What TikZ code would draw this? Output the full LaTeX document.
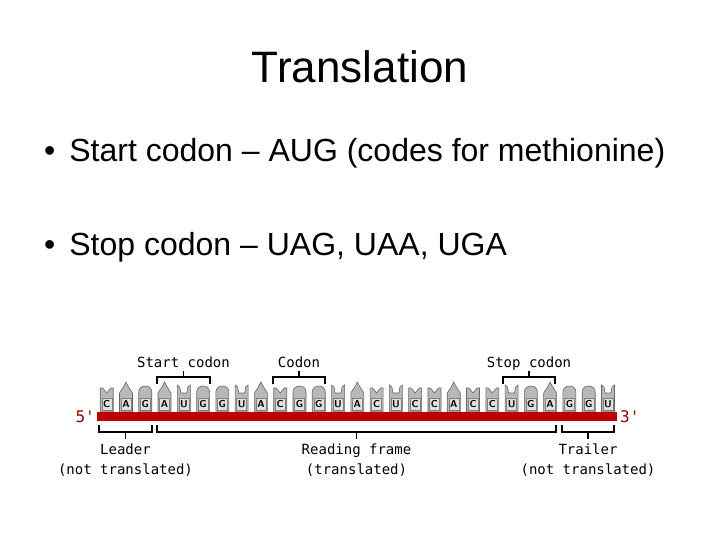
\documentclass[tikz,border=0pt]{standalone}
\usepackage{fontspec}
\setmainfont{Liberation Sans}
\newfontfamily\monof{DejaVu Sans Mono}
\def\bA{A}\def\bG{G}\def\bC{C}\def\bU{U}
\begin{document}
\begin{tikzpicture}[x=1pt,y=-1pt,
  lbl/.style={font=\monof\fontsize{14}{15}\selectfont, inner sep=0pt, anchor=base},
  brk/.style={line width=1.6pt},
  basebody/.style={fill=black!28, draw=black!60, line width=0.6pt},
  letbox/.style={fill=black!12, draw=black!50, line width=0.4pt, minimum width=10pt, minimum height=12pt, inner sep=0pt, font=\sffamily\bfseries\fontsize{10}{10}\selectfont}]
\useasboundingbox (0,0) rectangle (720,540);
\node[font=\fontsize{44}{48}\selectfont, anchor=base] (title) at (360,83) {Translation};
\node[font=\fontsize{32}{34}\selectfont, anchor=base west, inner sep=0pt] (b1) at (44,162) {\textbullet\hspace{14pt}Start codon -- AUG (codes for methionine)};
\node[font=\fontsize{32}{34}\selectfont, anchor=base west, inner sep=0pt] (b2) at (44,255) {\textbullet\hspace{14pt}Stop codon -- UAG, UAA, UGA};
% bases
\foreach \b [count=\i from 0] in {C,A,G,A,U,G,G,U,A,C,G,G,U,A,C,U,C,C,A,C,C,U,G,A,G,G,U}{
  \pgfmathsetmacro\cx{106.7+19.28*\i}
  \begin{scope}[shift={(\cx,0)}]
  \ifx\b\bA \draw[basebody] (-6.5,412) -- (-6.5,393) -- (-2,386) -- (0,382) -- (2,386) -- (6.5,393) -- (6.5,412) -- cycle;\fi
  \ifx\b\bG \draw[basebody] (-6.5,412) -- (-6.5,392) .. controls (-6.5,384) and (6.5,384) .. (6.5,392) -- (6.5,412) -- cycle;\fi
  \ifx\b\bC \draw[basebody] (-6.5,412) -- (-6.5,388) -- (-4,388) -- (0,393) -- (4,388) -- (6.5,388) -- (6.5,412) -- cycle;\fi
  \ifx\b\bU \draw[basebody] (-6.5,412) -- (-6.5,385) -- (-4,387) -- (-3,393) -- (3,393) -- (4,387) -- (6.5,385) -- (6.5,412) -- cycle;\fi
  \node[letbox] (l\i) at (0,404) {\b};
  \end{scope}
}
\fill[red!75!black] (97,412) rectangle (617,421);
\node[lbl, anchor=base east, text=red!60!black, font=\monof\fontsize{16}{16}\selectfont] (p5) at (95,422) {5'};
\node[lbl, anchor=base west, text=red!60!black, font=\monof\fontsize{16}{16}\selectfont] (p3) at (620,422) {3'};
% top brackets
\foreach \a/\b/\t/\n in {157/210/Start codon/s,273/325/Codon/c,503/555/Stop codon/t}{
  \draw[brk] (\a,384) -- (\a,377) -- (\b,377) -- (\b,384);
  \draw[brk] ({(\a+\b)/2},377) -- ({(\a+\b)/2},371);
  \node[lbl] (top\n) at ({(\a+\b)/2},367) {\t};
}
% bottom brackets
\foreach \a/\b/\t/\u/\n in {99/152/Leader/(not translated)/l,157/556/Reading frame/(translated)/r,562/614/Trailer/(not translated)/t}{
  \draw[brk] (\a,425) -- (\a,432) -- (\b,432) -- (\b,425);
  \draw[brk] ({(\a+\b)/2},432) -- ({(\a+\b)/2},439);
  \node[lbl] (bot\n) at ({(\a+\b)/2},454) {\t};
  \node[lbl] (bot2\n) at ({(\a+\b)/2},474) {\u};
}
\end{tikzpicture}
\end{document}
